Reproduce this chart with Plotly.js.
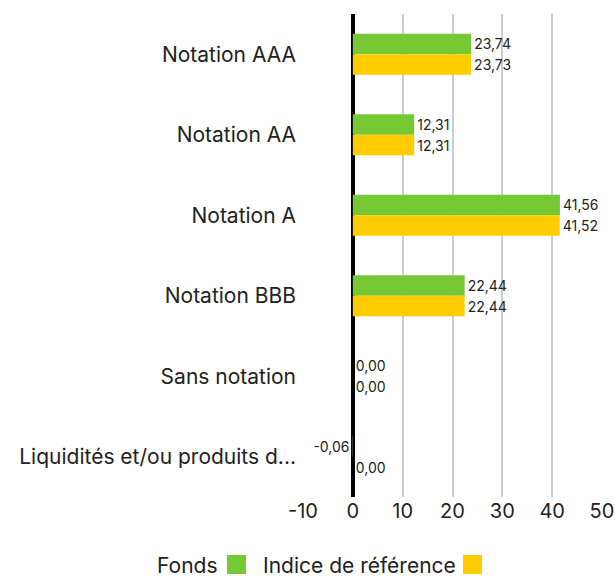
<!DOCTYPE html>
<html>
<head>
<meta charset="utf-8">
<script src="https://cdn.plot.ly/plotly-3.0.1.min.js"></script>
<style>html,body{margin:0;padding:0;background:#fff;}#chart{width:615px;height:576px;}</style>
</head>
<body>
<div id="chart"></div>
<script>
const categories = ["Notation AAA", "Notation AA", "Notation A", "Notation BBB", "Sans notation", "Liquidités et/ou produits d..."];
const fondsValues = [23.74, 12.31, 41.56, 22.44, 0.00, -0.06];
const indiceValues = [23.73, 12.31, 41.52, 22.44, 0.00, 0.00];
const seriesNames = ["Fonds", "Indice de référence"];
const seriesColors = ["#76C935", "#FFCC00"];
const xTickVals = [-10, 0, 10, 20, 30, 40, 50];

const FONT = "Inter, 'Noto Sans', sans-serif";

function barTrace(name, vals, color) {
  return {
    type: "bar", orientation: "h", name: name,
    y: categories, x: vals,
    marker: {color: color},
    texttemplate: "%{x:.2f}", textposition: "outside",
    textfont: {family: FONT, size: 14, color: "#222"},
    cliponaxis: false, hoverinfo: "skip"
  };
}

const data = [
  barTrace(seriesNames[0], fondsValues, seriesColors[0]),
  barTrace(seriesNames[1], indiceValues, seriesColors[1])
];

const annotations = [];
const shapes = [];
const legendItems = [
  {text: seriesNames[0], color: seriesColors[0], textRight: 219, sq: 227},
  {text: seriesNames[1], color: seriesColors[1], textRight: 457, sq: 463}
];
legendItems.forEach(it => {
  annotations.push({xref: "paper", yref: "paper", x: (it.textRight - 303) / 299, y: -(565 - 497) / 483,
    xanchor: "right", yanchor: "middle", showarrow: false, text: it.text,
    height: 20, borderpad: 0, valign: "middle",
    font: {family: FONT, size: 21, color: "#222"}});
  shapes.push({type: "rect", xref: "paper", yref: "paper", x0: (it.sq - 303) / 299, x1: (it.sq + 19 - 303) / 299,
    y0: -(574 - 497) / 483, y1: -(555 - 497) / 483, fillcolor: it.color, line: {width: 0}});
});

const layout = {
  width: 615, height: 576,
  margin: {l: 303, r: 13, t: 14, b: 79},
  paper_bgcolor: "#fff", plot_bgcolor: "#fff",
  separators: ", ",
  barmode: "group", bargap: 0.49, bargroupgap: 0,
  showlegend: false,
  font: {family: FONT, color: "#222"},
  xaxis: {
    range: [-10, 50], tickvals: xTickVals, ticktext: xTickVals.map(String),
    showgrid: true, gridcolor: "#cccccc", gridwidth: 2,
    zeroline: true, zerolinecolor: "#000", zerolinewidth: 4,
    tickfont: {family: FONT, size: 20, color: "#222"},
    ticklabeloverflow: "allow",
    ticks: "", showline: false, fixedrange: true
  },
  yaxis: {
    autorange: "reversed", showgrid: false, zeroline: false, showline: false,
    tickfont: {family: FONT, size: 21, color: "#222"}, ticks: "", ticklabelstandoff: 6,
    fixedrange: true
  },
  annotations: annotations, shapes: shapes
};

Plotly.newPlot("chart", data, layout, {displayModeBar: false, staticPlot: true});
</script>
</body>
</html>
